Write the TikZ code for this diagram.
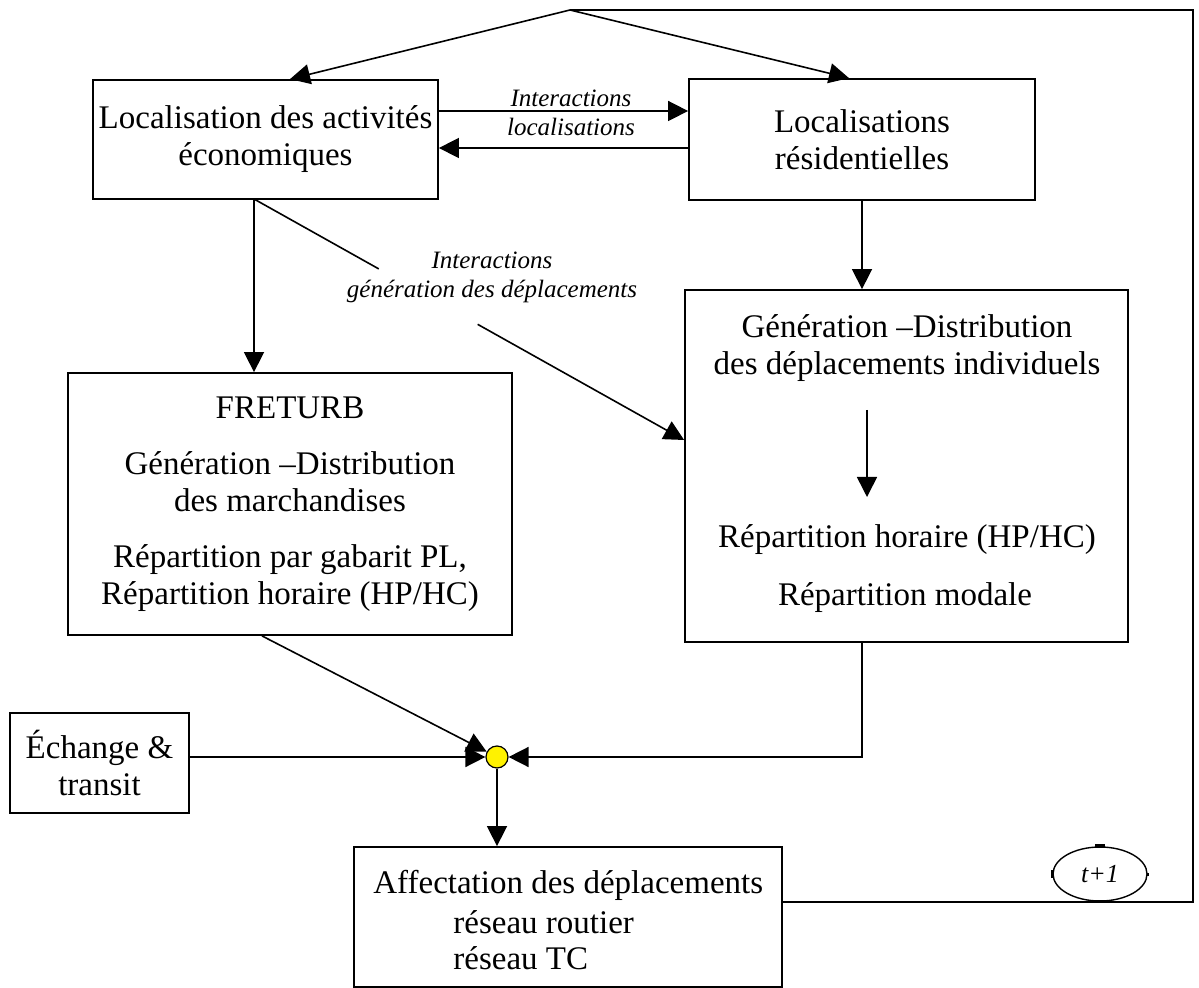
\documentclass[tikz,border=0pt]{standalone}
\usepackage{fontspec}
\setmainfont{Liberation Serif}
\usetikzlibrary{arrows.meta,calc,shapes.geometric}
\begin{document}
\begin{tikzpicture}[x=0.5pt,y=-0.5pt,
  box/.style={draw, line width=0.9pt, rectangle, inner sep=0pt, align=center, font=\fontsize{16.5pt}{18.5pt}\selectfont},
  lbl/.style={align=center, inner sep=0pt, font=\fontsize{12.5pt}{14.5pt}\selectfont\itshape},
  txt/.style={inner sep=0pt, font=\fontsize{16.5pt}{18.5pt}\selectfont},
  arr/.style={line width=0.8pt, -{Triangle[length=10pt,width=10pt]}},
  ln/.style={line width=0.8pt}]
\useasboundingbox (0,0) rectangle (1199,988);
\fill[white] (0,0) rectangle (1199,988);

% boxes
\node[box, minimum width=172.5pt, minimum height=59.5pt] (A) at (265.5,139.5) {Localisation des activités\\économiques};
\node[box, minimum width=173pt, minimum height=60.5pt] (B) at (862,139.5) {Localisations\\résidentielles};
\node[box, minimum width=222pt, minimum height=131pt] (C) at (290,504) {FRETURB\\[9.5pt]Génération –Distribution\\des marchandises\\[9.5pt]Répartition par gabarit PL,\\Répartition horaire (HP/HC)};
\node[box, minimum width=221.5pt, minimum height=176pt] (D) at (906.5,466) {};
\node[txt, align=center] (D1) at (907,348) {Génération –Distribution\\des déplacements individuels};
\node[txt] (D2) at (907,540) {Répartition horaire (HP/HC)};
\node[txt] (D3) at (905,598) {Répartition modale};
\node[box, minimum width=89.5pt, minimum height=50pt] (X) at (99.5,763) {Échange \&\\transit};
\node[box, minimum width=214pt, minimum height=70pt] (E) at (568,917) {};
\node[txt, anchor=west] (E1) at (373,885) {Affectation des déplacements};
\node[txt, anchor=west] (E2) at (453,922) {réseau routier};
\node[txt, anchor=west] (E3) at (453,958) {réseau TC};

% junction and loop marker
\node[circle, draw, fill=yellow, minimum size=11pt, inner sep=0pt, line width=0.6pt] (J) at (497,757) {};
\node[ellipse, draw, line width=0.7pt, minimum width=47pt, minimum height=27pt, inner sep=0pt, font=\fontsize{13pt}{15pt}\selectfont\itshape] (T) at (1100,874) {t+1};
\fill ($(T.north)+(-5,-2)$) rectangle ($(T.north)+(5,2)$);
\fill ($(T.south)+(-4,-1.5)$) rectangle ($(T.south)+(4,1.5)$);
\fill ($(T.west)+(-1.5,-4)$) rectangle ($(T.west)+(1.5,4)$);
\fill ($(T.east)+(-1,-1.5)$) rectangle ($(T.east)+(1,1.5)$);

% labels
\node[lbl] (L1) at (571,113) {Interactions\\localisations};
\node[lbl] (L2) at (492,277.5) {Interactions\\génération des déplacements};

% coordinates
\coordinate (top) at (570,10);
\coordinate (tr) at (1193,10);
\coordinate (cr) at (1193,902);
\coordinate (a1) at (254,199);
\coordinate (d3) at ($(D.west)+(0,-26)$);
\coordinate (din1) at (867,410);
\coordinate (din2) at (867,497);

% connectors
\draw[ln] ($(E.east)+(0,-15)$) -- (cr) -- (tr) -- (top);
\draw[arr] (top) -- ($(A.north)+(24.5,0)$);
\draw[arr] (top) -- ($(B.north)+(-13,0)$);
\draw[arr] ($(A.east)+(0,-28.5)$) -- ($(B.west)+(0,-28.5)$);
\draw[arr] ($(B.west)+(0,8.5)$) -- ($(A.east)+(0,8.5)$);
\draw[arr] (B.south) -- (B.south |- D.north);
\draw[arr] (a1) -- (a1 |- C.north);
\draw[ln] (a1) -- ($(a1)!0.29!(d3)$);
\draw[arr] ($(a1)!0.52!(d3)$) -- (d3);
\draw[arr] (din1) -- (din2);
\draw[arr] ($(C.south)+(-28,0)$) -- (J);
\draw[arr] (J.west -| X.east) -- (J.west);
\draw[arr] (B.south |- D.south) |- (J.east);
\draw[arr] (J.south) -- (J.south |- E.north);
\end{tikzpicture}
\end{document}
